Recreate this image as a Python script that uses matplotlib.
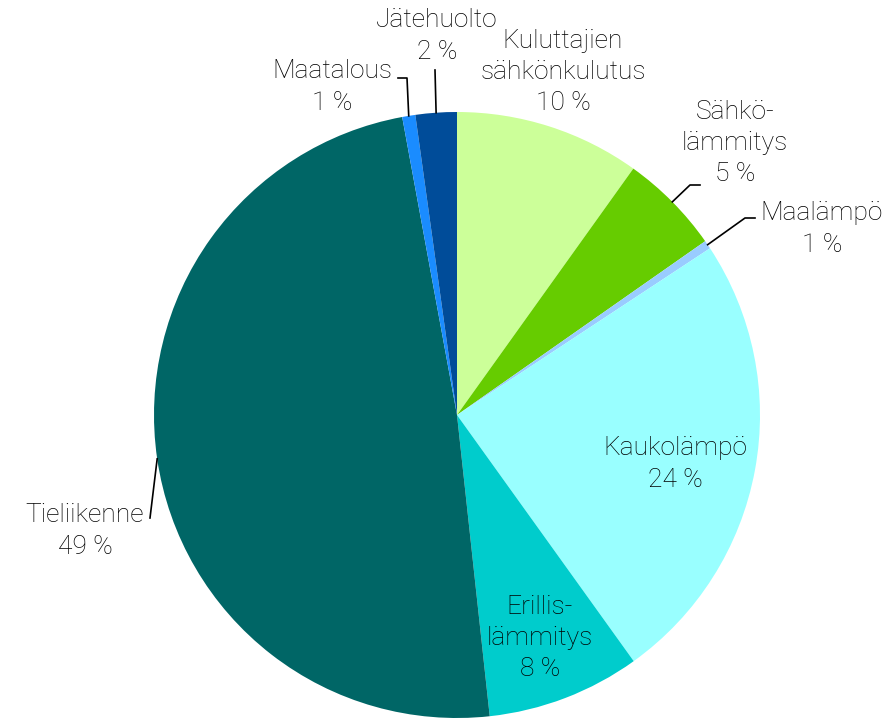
import matplotlib
matplotlib.use("Agg")
import matplotlib.pyplot as plt
import numpy as np

plt.rcParams['font.family'] = ['Roboto', 'DejaVu Sans']

labels = ['Kuluttajien\nsähkönkulutus\n10 %', 'Sähkö-\nlämmitys\n5 %', 'Maalämpö\n1 %',
          'Kaukolämpö\n24 %', 'Erillis-\nlämmitys\n8 %', 'Tieliikenne\n49 %',
          'Maatalous\n1 %', 'Jätehuolto\n2 %']
shares = [9.9, 5.4, 0.45, 24.4, 8.2, 48.9, 0.7, 2.2]
colors = ['#CCFF99', '#66CC00', '#99CCFF', '#99FFFF', '#00CCCC', '#006666',
          '#1A8CFF', '#004C99']

W, H = 892, 719
cx, cy, R = 457, 415, 303


def px(x, y):
    return (x - cx) / R, (cy - y) / R


fig = plt.figure(figsize=(W / 100, H / 100), dpi=100)
ax = fig.add_axes([0, 0, 1, 1])
wedges, _ = ax.pie(shares, colors=colors, startangle=90, counterclock=False,
                   wedgeprops=dict(linewidth=0))
ax.set_xlim(-cx / R, (W - cx) / R)
ax.set_ylim(-(H - cy) / R, cy / R)
ax.set_aspect('equal', adjustable='box')
ax.axis('off')

# text block centres (pixels)
text_pos = [(563, 72), (735, 143), (822, 229), (675, 464), (540, 638),
            (85, 531), (332, 87), (437, 36)]
# leader line bends (pixels), None for inside labels
leaders = [None, [(690, 185), (700, 185)], [(745, 218), (755, 218)], None, None,
           [(150, 518)], [(407, 78), (398, 78)], [(435, 70)]]

for w, lab, tp, ld in zip(wedges, labels, text_pos, leaders):
    ax.text(*px(*tp), lab, ha='center', va='center', fontsize=19,
            fontweight='light', color='#000000', linespacing=1.38)
    if ld:
        mid = np.deg2rad((w.theta1 + w.theta2) / 2)
        xs = [np.cos(mid)] + [px(*p)[0] for p in ld]
        ys = [np.sin(mid)] + [px(*p)[1] for p in ld]
        ax.plot(xs, ys, color='black', lw=1.2)

fig.savefig('out.png', dpi=100)
